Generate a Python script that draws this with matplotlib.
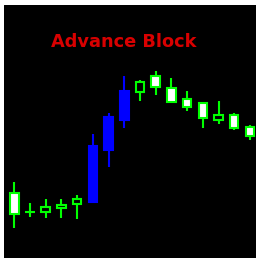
import matplotlib
matplotlib.use("Agg")
import matplotlib.pyplot as plt
from matplotlib.patches import Rectangle

# OHLC data (arbitrary price units)
opens  = [64.7, 46.3, 45.7, 49.7, 53.7, 56.3, 108.0, 138.0, 165.7, 182.0, 170.3, 158.7, 154.7, 138.0, 143.0, 131.3]
highs  = [76.3, 54.7, 58.7, 58.7, 63.0, 123.7, 144.7, 182.0, 178.0, 187.0, 180.3, 167.0, 155.7, 157.0, 144.7, 133.0]
lows   = [29.7, 41.3, 39.7, 39.7, 39.0, 54.7, 90.7, 129.7, 157.0, 163.0, 155.7, 147.3, 129.7, 133.7, 128.0, 118.0]
closes = [44.0, 46.3, 50.7, 53.0, 59.0, 112.0, 141.3, 167.0, 176.3, 171.3, 155.7, 151.3, 139.7, 143.0, 130.3, 122.3]
pattern = [5, 6, 7]  # indices of the Advance Block candles
title = "Advance Block"

fig = plt.figure(figsize=(2.56, 2.58), dpi=100, facecolor="white")
ax = fig.add_axes([4/256, 0, 252/256, 253/258])
ax.set_facecolor("black")
ax.set_xlim(-0.656, 15.385)
ax.set_ylim(0, 253)
ax.axis("off")
ax.add_patch(Rectangle((0, 0), 1, 1, transform=ax.transAxes, color="black", zorder=0))

green = "#00ff00"
blue = "#0000ff"
w = 0.54
for i, (o, h, l, c) in enumerate(zip(opens, highs, lows, closes)):
    if i in pattern:
        edge = blue
        fill = blue
    else:
        edge = green
        fill = "black" if c > o else "white"
    ax.vlines(i, l, h, color=edge, linewidth=1.5, zorder=2)
    bottom = min(o, c)
    height = abs(c - o)
    if height < 0.5:
        ax.hlines(o, i - w/2 - 0.07, i + w/2 + 0.07, color=edge, linewidth=1.5, zorder=3)
    else:
        ax.add_patch(Rectangle((i - w/2, bottom), w, height, facecolor=fill,
                               edgecolor=edge, linewidth=1.5, zorder=3))

fig.text(124/256, 1 - 42/258, title, ha="center", va="center",
         color="#d80000", fontsize=12.8, fontweight="bold")

fig.savefig("out.png", dpi=100, facecolor="white")
